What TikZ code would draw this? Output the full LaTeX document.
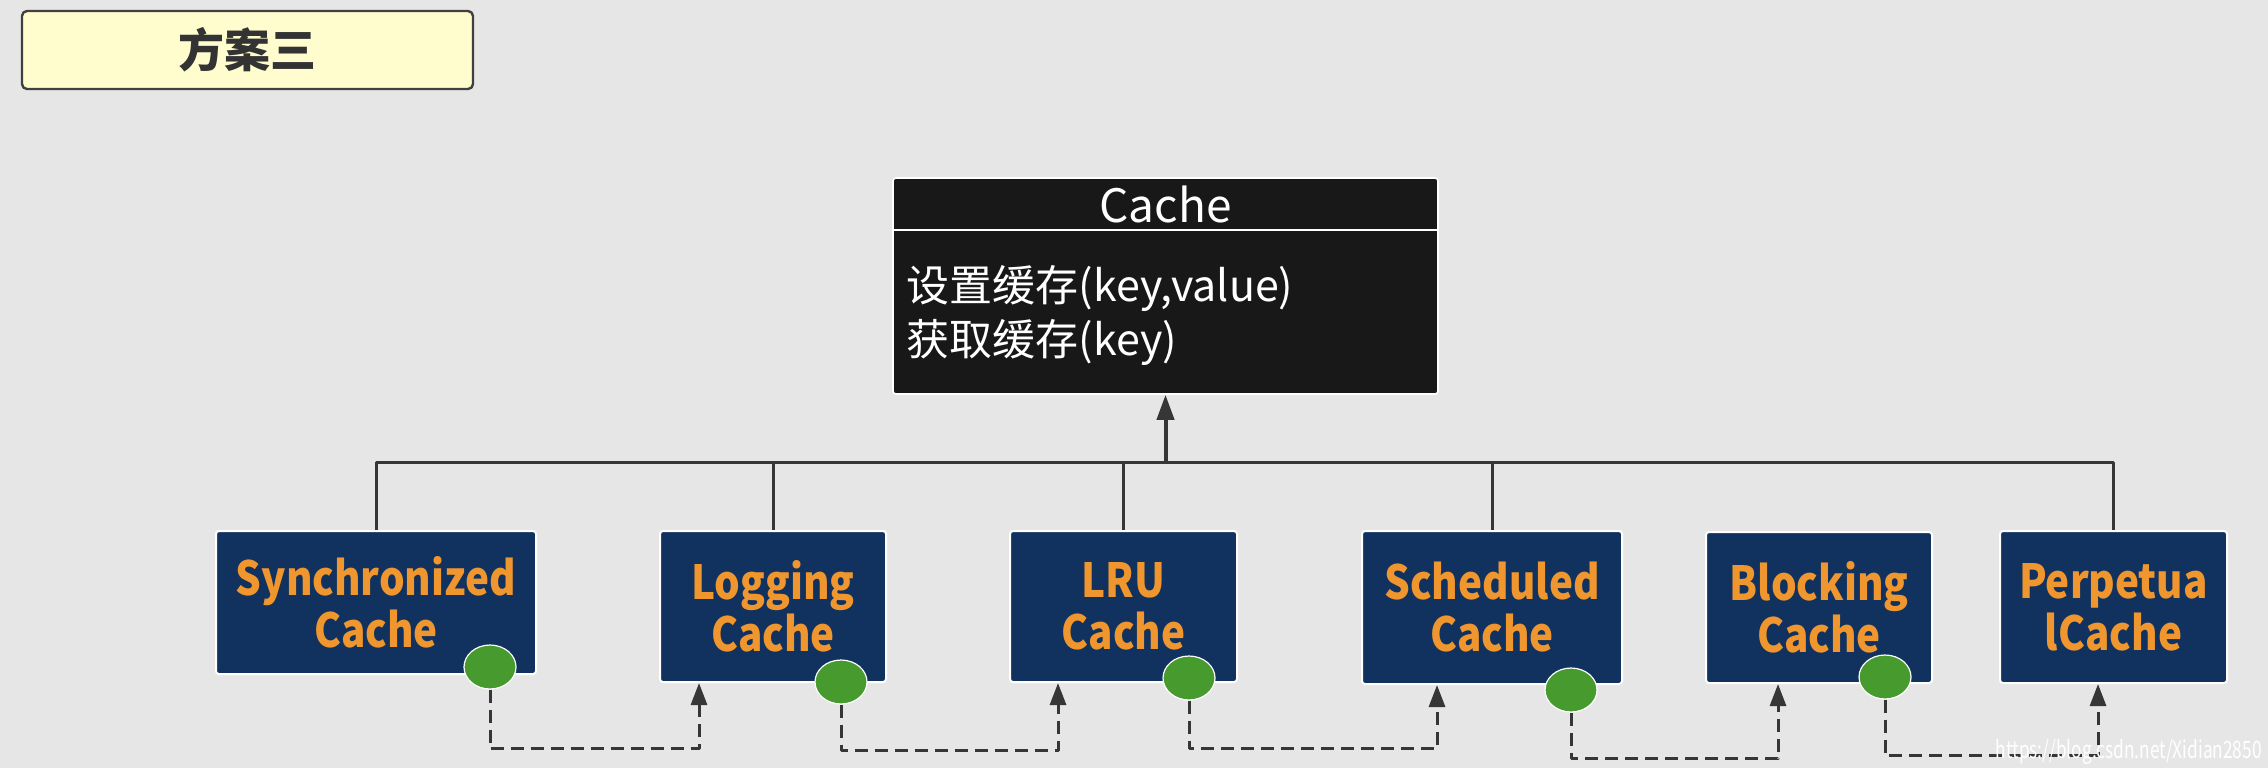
\documentclass[tikz,border=0pt]{standalone}
\usepackage{fontspec}
\setmainfont{Noto Sans CJK SC}
\newfontfamily\implfont{Noto Sans CJK SC}[FakeStretch=0.86]
\usepackage{tikz}
\usetikzlibrary{%
  positioning
 ,arrows.meta
 ,shapes.geometric
 ,calc
}
\definecolor{bggray}{HTML}{E6E6E6}
\definecolor{notefill}{HTML}{FFFDCE}
\definecolor{clsfill}{HTML}{181818}
\definecolor{implfill}{HTML}{11325F}
\definecolor{impltext}{HTML}{F0962E}
\definecolor{dotgreen}{HTML}{469A2E}
\definecolor{linegray}{HTML}{363636}
\tikzstyle{diag}=[x=0.5pt,y=-0.5pt,line join=round]
\tikzstyle{note}=[rectangle,rounded corners=2.5pt,draw=black!75,line width=1.2pt,fill=notefill,text=black!80,font=\fontsize{23}{26}\selectfont\bfseries,minimum width=225.5pt,minimum height=39pt]
\tikzstyle{cls}=[rectangle,rounded corners=1.5pt,draw=white,line width=0.8pt,fill=clsfill,minimum width=272.5pt,minimum height=108pt]
\tikzstyle{clsname}=[text=white,font=\fontsize{23}{26}\selectfont,inner sep=0pt]
\tikzstyle{ops}=[anchor=west,align=left,text=white,font=\fontsize{21.5}{27}\selectfont,inner sep=0pt]
\tikzstyle{impl}=[rectangle,rounded corners=1.5pt,draw=white,line width=1pt,fill=implfill,text=impltext,font=\implfont\fontsize{23.5}{26}\selectfont\bfseries,align=center,inner sep=0pt]
\tikzstyle{dot}=[ellipse,draw=white,line width=0.6pt,fill=dotgreen,minimum width=26pt,minimum height=22pt,inner sep=0pt]
\tikzstyle{tree}=[draw=linegray,line width=1.5pt]
\tikzstyle{dep}=[draw=linegray,line width=1.5pt,dash pattern=on 6.5pt off 3.5pt,-{Triangle[length=11pt,width=8pt]}]
\tikzstyle{wmark}=[text=white,font=\fontsize{12}{12}\selectfont,xscale=0.72,inner sep=0pt]

\begin{document}
\begin{tikzpicture}[diag]
      \path[fill=bggray] (0,0) rectangle (2268,768);
      \node[note] (title) at (247.5,50) {方案三};
      \node[cls] (cache) at (1165.5,286) {};
      \node[clsname] (cachename) at ([yshift=-13.5pt]cache.north) {Cache};
      \draw[white,line width=1pt] ([yshift=-26.5pt]cache.north west) -- ([yshift=-26.5pt]cache.north east);
      \node[ops] (ops) at ([xshift=7pt,yshift=-14.5pt]cache.west) {设置缓存(key,value)\\获取缓存(key)};
      \node[impl,minimum width=160pt,minimum height=71.5pt] (sync) at (376,602.5) {Synchronized\\Cache};
      \node[impl,minimum width=113pt,minimum height=75.5pt] (logging) at (773,606.5) {Logging\\Cache};
      \node[impl,minimum width=113.5pt,minimum height=75.5pt] (lru) at (1123.5,606.5) {LRU\\Cache};
      \node[impl,minimum width=130pt,minimum height=76.5pt] (sched) at (1492,607.5) {Scheduled\\Cache};
      \node[impl,minimum width=113pt,minimum height=75.5pt] (block) at (1819,607.5) {Blocking\\Cache};
      \node[impl,minimum width=113.5pt,minimum height=76pt] (perp) at (2113.5,607) {Perpetua\\lCache};
      \coordinate (bus) at (1165,462);
      \draw[tree] (sync.north) -- (sync.north |- bus) -- (perp.north |- bus) -- (perp.north);
      \foreach \n in {logging,lru,sched}
        \draw[tree] (\n.north) -- (\n.north |- bus);
      \draw[tree,line width=2pt,-{Triangle[length=12.5pt,width=8.5pt]}] (cache.south |- bus) -- (cache.south);
      \node[dot] (o_1) at (490,667) {};
      \node[dot] (o_2) at (841,682) {};
      \node[dot] (o_3) at (1189,678) {};
      \node[dot] (o_4) at (1571,690) {};
      \node[dot] (o_5) at (1885,677) {};
      \draw[dep] (o_1.south) -- ++(0,-29.5pt) -| ([xshift=20pt]logging.south west);
      \draw[dep] (o_2.south) -- ++(0,-23pt) -| ([xshift=24.5pt]lru.south west);
      \draw[dep] (o_3.south) -- ++(0,-24pt) -| ([xshift=38pt]sched.south west);
      \draw[dep] (o_4.south) -- ++(0,-23pt) -| ([xshift=36.5pt]block.south west);
      \draw[dep] (o_5.south) -- ++(0,-28pt) -| ([xshift=49.5pt]perp.south west);
      \node[wmark,anchor=east] (url) at (2262,752) {https://blog.csdn.net/Xidian2850};
\end{tikzpicture}
\end{document}
